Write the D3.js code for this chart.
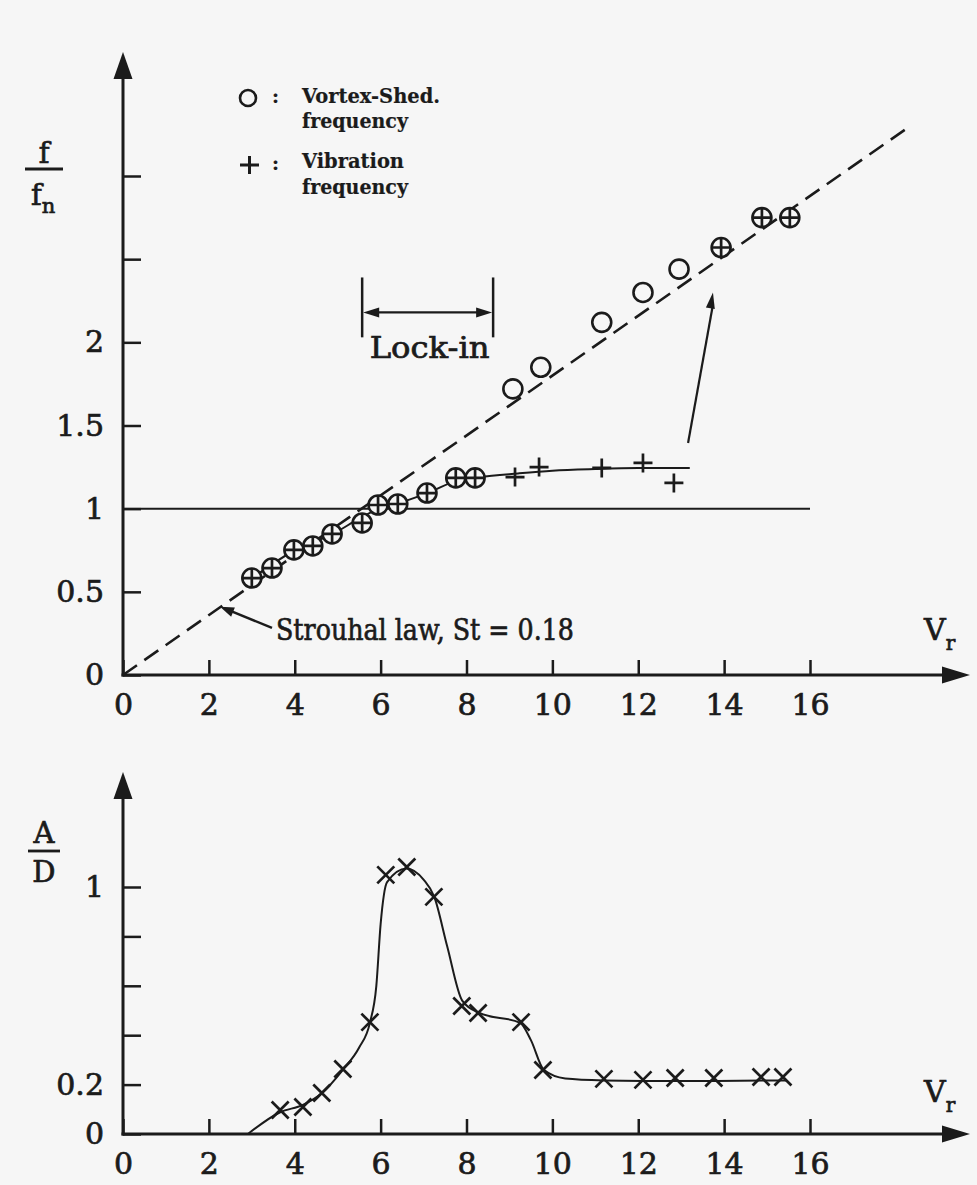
<!DOCTYPE html>
<html>
<head>
<meta charset="utf-8">
<script src="https://cdn.jsdelivr.net/npm/d3@7"></script>
<style>
  body { margin: 0; background: #f6f6f6; }
  svg { display: block; }
  text { font-family: "DejaVu Serif", serif; fill: #1b1b1b; stroke: #1b1b1b; stroke-width: 0.7px; }
  text.legend { stroke-width: 0.2px; }
</style>
</head>
<body>
<svg id="chart" width="977" height="1185"></svg>
<script>
// ---- data -------------------------------------------------------------
const strouhal = 0.18;           // St, slope of the dashed Strouhal line
const strouhalEnd = 18.35;       // Vr where the dashed line stops

// vortex-shedding frequency f/fn (circles)
const vortexVr = [3.0, 3.47, 3.98, 4.42, 4.87, 5.57, 5.94, 6.40, 7.08, 7.75, 8.20,
                  9.08, 9.73, 11.15, 12.11, 12.95, 13.93, 14.88, 15.53];
const vortexF  = [0.583, 0.643, 0.752, 0.776, 0.848, 0.914, 1.022, 1.028, 1.094, 1.185, 1.185,
                  1.72, 1.85, 2.12, 2.30, 2.44, 2.57, 2.75, 2.75];

// vibration frequency f/fn (plus signs)
const vibrationVr = [3.0, 3.47, 3.98, 4.42, 4.87, 5.57, 5.94, 6.40, 7.08, 7.75, 8.20,
                     9.13, 9.69, 11.15, 12.11, 12.83, 13.93, 14.88, 15.53];
const vibrationF  = [0.583, 0.643, 0.752, 0.776, 0.848, 0.914, 1.022, 1.028, 1.094, 1.185, 1.185,
                     1.19, 1.25, 1.245, 1.275, 1.155, 2.57, 2.75, 2.75];

// faired curve through the vibration frequency
const vibFitVr = [3.0, 4.0, 4.9, 5.5, 6.0, 6.5, 7.1, 7.8, 8.3, 9.2, 10.0, 11.0, 12.0, 13.2];
const vibFitF  = [0.58, 0.75, 0.85, 0.94, 1.005, 1.04, 1.095, 1.17, 1.19, 1.212, 1.228, 1.238, 1.244, 1.245];

// amplitude response A/D (crosses)
const ampVr = [3.66, 4.19, 4.63, 5.12, 5.75, 6.12, 6.61, 7.24, 7.89, 8.27, 9.27, 9.78,
               11.2, 12.11, 12.86, 13.76, 14.86, 15.37];
const ampAD = [0.097, 0.109, 0.166, 0.263, 0.453, 1.049, 1.081, 0.960, 0.518, 0.490, 0.453, 0.259,
               0.223, 0.219, 0.227, 0.227, 0.231, 0.231];

// faired curve through the amplitude response
const ampFitVr = [2.91, 3.66, 4.19, 4.63, 5.12, 5.5, 5.75, 5.9, 6.0, 6.15, 6.6, 7.0, 7.25, 7.55,
                  7.9, 8.3, 9.25, 9.5, 9.8, 10.3, 11.2, 12.1, 13.8, 15.45];
const ampFitAD = [0.0, 0.088, 0.118, 0.165, 0.26, 0.35, 0.45, 0.6, 0.85, 1.02, 1.075, 1.03, 0.96, 0.76,
                  0.54, 0.49, 0.45, 0.38, 0.26, 0.225, 0.217, 0.215, 0.215, 0.217];

// axes
const vrTicks = [0, 2, 4, 6, 8, 10, 12, 14, 16];
const fTicks = [0, 0.5, 1, 1.5, 2, 2.5, 3];
const fTickLabels = ["0", "0.5", "1", "1.5", "2", "", ""];
const adTicks = [0, 0.2, 0.4, 0.6, 0.8, 1];
const adTickLabels = ["0", "0.2", "", "", "", "1"];

const lockIn = [5.57, 8.62];     // lock-in range in Vr

// ---- scales -----------------------------------------------------------
const ink = "#1b1b1b";
const svg = d3.select("#chart");
svg.append("rect").attr("width", 977).attr("height", 1185).attr("fill", "#f6f6f6");

const x = d3.scaleLinear().domain([0, 16]).range([123, 810]);
const yF = d3.scaleLinear().domain([0, 3]).range([675, 176]);
const yA = d3.scaleLinear().domain([0, 1]).range([1134, 887]);

function arrowHead(g, tipX, tipY, dirX, dirY, len, half) {
  const bx = tipX - dirX * len, by = tipY - dirY * len;
  const px = -dirY, py = dirX;
  g.append("path")
    .attr("d", `M${tipX},${tipY}L${bx + px * half},${by + py * half}L${bx - px * half},${by - py * half}Z`)
    .attr("fill", ink);
}

function drawAxes(yScale, yTicks, yLabels, yTopPx, axisY) {
  const g = svg.append("g");
  // vertical axis line + arrow
  g.append("line").attr("x1", x(0)).attr("x2", x(0))
    .attr("y1", axisY + 1.5).attr("y2", yTopPx + 20)
    .attr("stroke", ink).attr("stroke-width", 3);
  arrowHead(g, x(0), yTopPx, 0, -1, 27, 9.5);
  // horizontal axis line + arrow
  g.append("line").attr("x1", x(0) - 1.5).attr("x2", 948)
    .attr("y1", axisY).attr("y2", axisY)
    .attr("stroke", ink).attr("stroke-width", 3);
  arrowHead(g, 970, axisY, 1, 0, 28, 8.5);

  // x ticks via d3 axis
  const xa = g.append("g").attr("transform", `translate(0,${axisY})`)
    .call(d3.axisBottom(x).tickValues(vrTicks).tickSizeInner(-15).tickSizeOuter(0)
      .tickPadding(19).tickFormat(d3.format("d")));
  xa.select(".domain").remove();
  xa.selectAll(".tick line").attr("stroke", ink).attr("stroke-width", 2.5);
  xa.selectAll(".tick text").attr("font-size", 30).attr("fill", ink)
    .attr("font-family", "DejaVu Serif, serif");

  // y ticks via d3 axis
  const ya = g.append("g").attr("transform", `translate(${x(0)},0)`)
    .call(d3.axisLeft(yScale).tickValues(yTicks).tickSizeInner(-18).tickSizeOuter(0)
      .tickPadding(19).tickFormat((d, i) => yLabels[i]));
  ya.select(".domain").remove();
  ya.selectAll(".tick line").attr("stroke", ink).attr("stroke-width", 2.5);
  ya.selectAll(".tick text").attr("font-size", 30).attr("fill", ink)
    .attr("font-family", "DejaVu Serif, serif");
  return g;
}

// ---- upper panel: frequency ratio --------------------------------------
drawAxes(yF, fTicks, fTickLabels, 52, yF(0));

// f / fn label
svg.append("text").attr("x", 44).attr("y", 163).attr("text-anchor", "middle")
  .attr("font-size", 29).text("f");
svg.append("line").attr("x1", 25).attr("x2", 63).attr("y1", 169).attr("y2", 169)
  .attr("stroke", ink).attr("stroke-width", 2.8);
const fn = svg.append("text").attr("x", 31).attr("y", 205).attr("font-size", 29);
fn.append("tspan").text("f");
fn.append("tspan").attr("font-size", 21).attr("dy", 8).text("n");

// Vr label
function vrLabel(baseY) {
  const t = svg.append("text").attr("x", 924).attr("y", baseY).attr("font-size", 30);
  t.append("tspan").text("V");
  t.append("tspan").attr("font-size", 20).attr("dy", 10).text("r");
}
vrLabel(640);

// Strouhal line
svg.append("path")
  .datum([[0, 0], [strouhalEnd, strouhal * strouhalEnd]])
  .attr("d", d3.line().x(d => x(d[0])).y(d => yF(d[1])))
  .attr("fill", "none").attr("stroke", ink).attr("stroke-width", 2.6)
  .attr("stroke-dasharray", "17,9");

// f/fn = 1 reference line
svg.append("line").attr("x1", x(0)).attr("x2", x(16)).attr("y1", yF(1)).attr("y2", yF(1))
  .attr("stroke", ink).attr("stroke-width", 2);

// faired vibration curve
svg.append("path")
  .datum(d3.zip(vibFitVr, vibFitF))
  .attr("d", d3.line().curve(d3.curveMonotoneX).x(d => x(d[0])).y(d => yF(d[1])))
  .attr("fill", "none").attr("stroke", ink).attr("stroke-width", 2);

// vortex-shedding markers (circles)
svg.append("g").selectAll("circle")
  .data(d3.zip(vortexVr, vortexF)).join("circle")
  .attr("cx", d => x(d[0])).attr("cy", d => yF(d[1])).attr("r", 9.5)
  .attr("fill", "#f6f6f6").attr("stroke", ink).attr("stroke-width", 2.6);

// vibration markers (plus signs)
const plusSize = 9.5;
svg.append("g").selectAll("path")
  .data(d3.zip(vibrationVr, vibrationF)).join("path")
  .attr("d", d => {
    const cx = x(d[0]), cy = yF(d[1]);
    return `M${cx - plusSize},${cy}H${cx + plusSize}M${cx},${cy - plusSize}V${cy + plusSize}`;
  })
  .attr("stroke", ink).attr("stroke-width", 2.7).attr("fill", "none");

// lock-in bracket
const lk = svg.append("g");
lockIn.forEach(v => {
  lk.append("line").attr("x1", x(v)).attr("x2", x(v)).attr("y1", yF(2.39)).attr("y2", yF(2.03))
    .attr("stroke", ink).attr("stroke-width", 2.5);
});
lk.append("line").attr("x1", x(lockIn[0]) + 14).attr("x2", x(lockIn[1]) - 14)
  .attr("y1", yF(2.18)).attr("y2", yF(2.18)).attr("stroke", ink).attr("stroke-width", 2.4);
arrowHead(lk, x(lockIn[0]) + 1, yF(2.18), -1, 0, 16, 5);
arrowHead(lk, x(lockIn[1]) - 1, yF(2.18), 1, 0, 16, 5);
lk.append("text").attr("x", (x(lockIn[0]) + x(lockIn[1])) / 2 + 2).attr("y", 358)
  .attr("text-anchor", "middle").attr("font-size", 29)
  .attr("textLength", 120).attr("lengthAdjust", "spacingAndGlyphs").text("Lock-in");

// arrow linking vibration branch to the shedding branch
const a0 = [13.16, 1.395], a1 = [13.74, 2.30];
const ag = svg.append("g");
ag.append("line").attr("x1", x(a0[0])).attr("y1", yF(a0[1]))
  .attr("x2", x(a1[0])).attr("y2", yF(a1[1]) + 12)
  .attr("stroke", ink).attr("stroke-width", 2.2);
{
  const dx = x(a1[0]) - x(a0[0]), dy = yF(a1[1]) - yF(a0[1]);
  const L = Math.hypot(dx, dy);
  arrowHead(ag, x(a1[0]), yF(a1[1]), dx / L, dy / L, 16, 4.5);
}

// Strouhal annotation
const sa = svg.append("g");
const s0 = [3.47, 0.283], s1 = [2.26, 0.41];
sa.append("line").attr("x1", x(s0[0])).attr("y1", yF(s0[1]))
  .attr("x2", x(s1[0]) + 8).attr("y2", yF(s1[1]) + 3)
  .attr("stroke", ink).attr("stroke-width", 2.4);
{
  const dx = x(s1[0]) - x(s0[0]), dy = yF(s1[1]) - yF(s0[1]);
  const L = Math.hypot(dx, dy);
  arrowHead(sa, x(s1[0]), yF(s1[1]), dx / L, dy / L, 14, 5);
}
sa.append("text").attr("x", 276).attr("y", 640).attr("font-size", 30)
  .attr("textLength", 298).attr("lengthAdjust", "spacingAndGlyphs")
  .text("Strouhal law, St = 0.18");

// legend
const lg = svg.append("g");
lg.append("circle").attr("cx", 248).attr("cy", 98).attr("r", 8)
  .attr("fill", "none").attr("stroke", ink).attr("stroke-width", 2.6);
lg.append("path").attr("d", "M240,165H259M249.5,156V174").attr("stroke", ink).attr("stroke-width", 3);
[[103, ":"], [170, ":"]].forEach(([yy, t]) =>
  lg.append("text").attr("class", "legend").attr("x", 272).attr("y", yy)
    .attr("font-size", 19).attr("font-weight", "bold").text(t));
const legendText = [
  [103, "Vortex-Shed.", 138],
  [128, "frequency", 106],
  [168, "Vibration", 102],
  [194, "frequency", 106]
];
legendText.forEach(([yy, t, w]) =>
  lg.append("text").attr("class", "legend").attr("x", 302).attr("y", yy)
    .attr("font-size", 20).attr("font-weight", "bold")
    .attr("textLength", w).attr("lengthAdjust", "spacingAndGlyphs").text(t));

// ---- lower panel: amplitude ---------------------------------------------
drawAxes(yA, adTicks, adTickLabels, 772, yA(0));

// A / D label
svg.append("text").attr("x", 44).attr("y", 843).attr("text-anchor", "middle")
  .attr("font-size", 29).text("A");
svg.append("line").attr("x1", 28).attr("x2", 60).attr("y1", 851).attr("y2", 851)
  .attr("stroke", ink).attr("stroke-width", 2.8);
svg.append("text").attr("x", 44).attr("y", 882).attr("text-anchor", "middle")
  .attr("font-size", 29).text("D");

vrLabel(1102);

// faired amplitude curve
svg.append("path")
  .datum(d3.zip(ampFitVr, ampFitAD))
  .attr("d", d3.line().curve(d3.curveMonotoneX).x(d => x(d[0])).y(d => yA(d[1])))
  .attr("fill", "none").attr("stroke", ink).attr("stroke-width", 2);

// amplitude markers (crosses)
const crossSize = 8.5;
svg.append("g").selectAll("path")
  .data(d3.zip(ampVr, ampAD)).join("path")
  .attr("d", d => {
    const cx = x(d[0]), cy = yA(d[1]), s = crossSize;
    return `M${cx - s},${cy - s}L${cx + s},${cy + s}M${cx - s},${cy + s}L${cx + s},${cy - s}`;
  })
  .attr("stroke", ink).attr("stroke-width", 2.7).attr("fill", "none");
</script>
</body>
</html>
